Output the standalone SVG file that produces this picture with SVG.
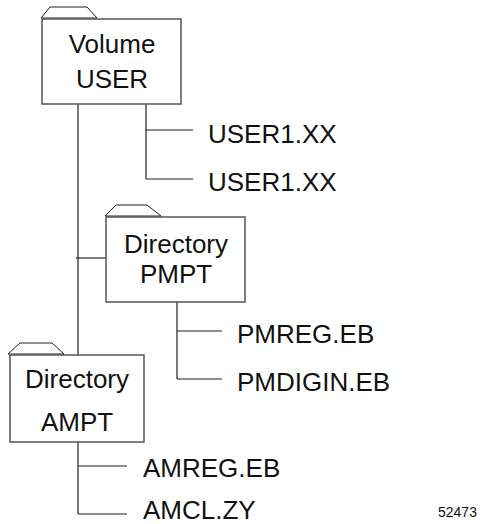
<svg xmlns="http://www.w3.org/2000/svg" width="484" height="524" viewBox="0 0 484 524">
<style>
.box{fill:#fff;stroke:#555;stroke-width:1.5}
.tab{fill:#fff;stroke:#222;stroke-width:1}
.ln{stroke:#222;stroke-width:1.2;fill:none}
.t{font-family:"Liberation Sans",Arial,sans-serif;font-size:26px;fill:#111}
.c{text-anchor:middle}
.small{font-family:"Liberation Sans",Arial,sans-serif;font-size:14px;fill:#111}
</style>
<rect width="484" height="524" fill="#fff"/>
<g id="connectors">
<line class="ln" x1="78" y1="104" x2="78" y2="355"/>
<line class="ln" x1="76" y1="258" x2="106" y2="258"/>
<line class="ln" x1="146" y1="104" x2="146" y2="179"/>
<line class="ln" x1="146" y1="130" x2="193" y2="130"/>
<line class="ln" x1="146" y1="179" x2="193" y2="179"/>
<line class="ln" x1="177" y1="302" x2="177" y2="379"/>
<line class="ln" x1="177" y1="331" x2="222" y2="331"/>
<line class="ln" x1="177" y1="379" x2="222" y2="379"/>
<line class="ln" x1="78" y1="442" x2="78" y2="514"/>
<line class="ln" x1="78" y1="466" x2="127" y2="466"/>
<line class="ln" x1="78" y1="514" x2="127" y2="514"/>
</g>
<g id="volume-user">
<polygon class="tab" points="41,18 50,7 87,7 97,18"/>
<rect class="box" x="42" y="19" width="139" height="85"/>
<text class="t c" x="112" y="53">Volume</text>
<text class="t c" x="112" y="88">USER</text>
</g>
<g id="user1-a"><text class="t" x="208" y="143">USER1.XX</text></g>
<g id="user1-b"><text class="t" x="208" y="191">USER1.XX</text></g>
<g id="dir-pmpt">
<polygon class="tab" points="105,216 116,205 147,205 161,216"/>
<rect class="box" x="106" y="217" width="139" height="85"/>
<text class="t c" x="176" y="253">Directory</text>
<text class="t c" x="176" y="283">PMPT</text>
</g>
<g id="pmreg"><text class="t" x="237" y="343">PMREG.EB</text></g>
<g id="pmdigin"><text class="t" x="237" y="391">PMDIGIN.EB</text></g>
<g id="dir-ampt">
<polygon class="tab" points="8,354 20,343 52,343 64,354"/>
<rect class="box" x="10" y="355" width="134" height="87"/>
<text class="t c" x="77" y="388">Directory</text>
<text class="t c" x="77" y="431">AMPT</text>
</g>
<g id="amreg"><text class="t" x="143" y="477">AMREG.EB</text></g>
<g id="amcl"><text class="t" x="143" y="519">AMCL.ZY</text></g>
<text class="small" x="438" y="517">52473</text>
</svg>
